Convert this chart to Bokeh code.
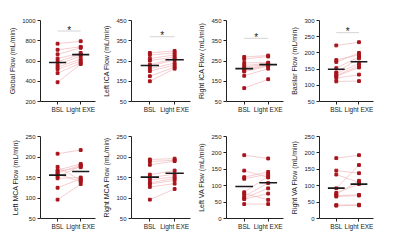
from bokeh.plotting import figure
from bokeh.layouts import row, column
from bokeh.models import FixedTicker, Range1d
from bokeh.core.properties import value
from bokeh.embed import file_html
from bokeh.resources import INLINE

categories = ["BSL", "Light EXE"]

global_bsl = [771, 711, 666, 624, 595, 563, 540, 518, 480, 390]
global_exe = [795, 740, 730, 680, 665, 650, 620, 600, 580, 570]

lica_bsl = [290, 280, 262, 252, 232, 225, 212, 200, 175, 150]
lica_exe = [300, 290, 280, 270, 262, 255, 240, 230, 220, 212]

rica_bsl = [270, 260, 241, 228, 219, 209, 203, 198, 177, 116]
rica_exe = [277, 272, 242, 238, 235, 232, 228, 224, 212, 160]

bas_bsl = [223, 178, 172, 153, 140, 136, 130, 128, 122, 112]
bas_exe = [233, 194, 200, 188, 183, 167, 160, 155, 133, 113]

lmca_bsl = [208, 176, 168, 165, 161, 158, 152, 148, 125, 96]
lmca_exe = [217, 143, 183, 175, 180, 140, 178, 150, 147, 134]

rmca_bsl = [194, 189, 181, 157, 150, 144, 137, 134, 127, 96]
rmca_exe = [196, 192, 190, 167, 158, 152, 148, 143, 135, 122]

lva_bsl = [193, 146, 126, 121, 80, 76, 68, 62, 59, 44]
lva_exe = [183, 125, 142, 135, 129, 57, 108, 92, 76, 44]

rva_bsl = [184, 146, 134, 92, 78, 74, 70, 67, 41, 39]
rva_exe = [193, 138, 110, 163, 105, 115, 72, 70, 42, 40]

y_labels = ["Global Flow (mL/min)", "Left ICA Flow (mL/min)", "Right ICA Flow (mL/min)",
            "Basilar Flow (mL/min)", "Left MCA Flow (mL/min)", "Right MCA Flow (mL/min)",
            "Left VA Flow (mL/min)", "Right VA Flow (mL/min)"]
y_ticks = [[200, 400, 600, 800, 1000], [50, 150, 250, 350, 450], [50, 150, 250, 350, 450],
           [50, 100, 150, 200, 250, 300], [50, 100, 150, 200, 250], [50, 100, 150, 200, 250],
           [0, 50, 100, 150, 200, 250], [0, 50, 100, 150, 200, 250]]
significant = [True, True, True, True, False, False, False, False]

series = [(global_bsl, global_exe), (lica_bsl, lica_exe), (rica_bsl, rica_exe), (bas_bsl, bas_exe),
          (lmca_bsl, lmca_exe), (rmca_bsl, rmca_exe), (lva_bsl, lva_exe), (rva_bsl, rva_exe)]

# layout settings (pixels)
col_w = [100, 95, 93, 112]
left_b = [40, 31, 28, 25]
right_b = [5, 5, 5, 27]
row_h = [120, 121]
top_b = [[20, 17, 17, 17], [16, 16, 16, 16]]
bot_b = [[17, 19, 19, 19], [23, 23, 23, 23]]
sig_frac = [0.13, 0.20, 0.22, 0.15]

FONT = "Liberation Sans"
PT_COLOR = "#a8141c"
LN_COLOR = "#f0b8ba"


def make_panel(i):
    r, c = divmod(i, 4)
    bsl, exe = series[i]
    ticks = y_ticks[i]
    ymin, ymax = ticks[0], ticks[-1]
    p = figure(width=col_w[c], height=row_h[r], output_backend="svg", toolbar_location=None,
               x_range=Range1d(0.26, 2.64), y_range=Range1d(ymin, ymax),
               min_border_left=left_b[c], min_border_right=right_b[c],
               min_border_top=top_b[r][c], min_border_bottom=bot_b[r][c])
    p.outline_line_color = None
    p.grid.visible = False
    p.background_fill_color = "white"
    p.border_fill_color = "white"

    # paired lines
    xs = [[1, 2] for _ in bsl]
    ys = [[b, e] for b, e in zip(bsl, exe)]
    p.multi_line(xs, ys, line_color=LN_COLOR, line_width=0.7)
    p.scatter([1] * len(bsl), bsl, marker="square", size=2.8, color=PT_COLOR)
    p.scatter([2] * len(exe), exe, marker="square", size=2.8, color=PT_COLOR)

    # means
    mb = sum(bsl) / len(bsl)
    me = sum(exe) / len(exe)
    p.segment(x0=[1 - 0.37, 2 - 0.37], y0=[mb, me], x1=[1 + 0.37, 2 + 0.37], y1=[mb, me],
              line_color="#1a1a1a", line_width=1.6)

    if significant[i]:
        sy = ymax - sig_frac[i] * (ymax - ymin)
        p.segment(x0=[1], y0=[sy], x1=[2], y1=[sy], line_color="#d4d4d4", line_width=1)
        p.text(x=[1.5], y=[sy], text=["*"], text_align="center", text_baseline="alphabetic",
               y_offset=-1, text_font=value(FONT), text_font_size="10px", text_color="#222222")

    for ax in (p.xaxis[0], p.yaxis[0]):
        ax.axis_line_color = "#222222"
        ax.axis_line_width = 1
        ax.major_tick_line_color = "#222222"
        ax.major_tick_out = 3
        ax.major_tick_in = 0
        ax.minor_tick_line_color = None
        ax.major_label_text_font = FONT
        ax.major_label_text_color = "#222222"
        ax.major_label_standoff = 2
        ax.axis_label_text_font = FONT
        ax.axis_label_text_font_style = "normal"
        ax.axis_label_text_color = "#222222"

    p.yaxis.ticker = FixedTicker(ticks=ticks)
    p.yaxis.major_label_text_font_size = "6px"
    p.yaxis.axis_label = y_labels[i]
    p.yaxis.axis_label_text_font_size = "7px"
    p.yaxis.axis_label_standoff = 3

    p.xaxis.ticker = FixedTicker(ticks=[1, 2])
    p.xaxis.major_label_overrides = {1: categories[0], 2: categories[1]}
    p.xaxis.major_label_text_font_size = "6.5px"
    p.xaxis.major_label_standoff = 1
    return p


panels = [make_panel(i) for i in range(8)]
layout = column(row(*panels[:4]), row(*panels[4:]))

open("out.html", "w").write(file_html(layout, INLINE))
